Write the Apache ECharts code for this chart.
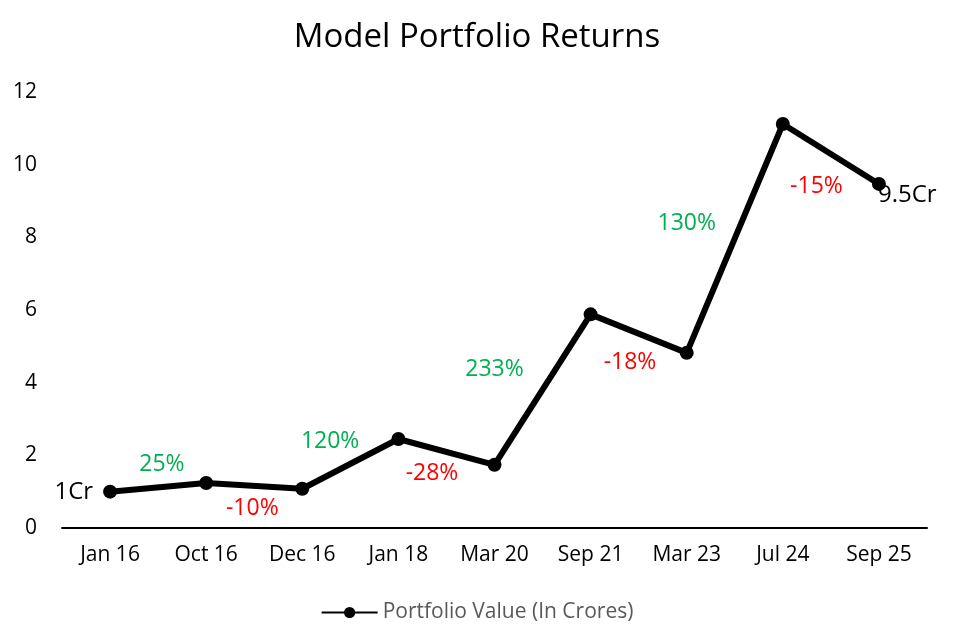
<!DOCTYPE html>
<html><head><meta charset="utf-8">
<script src="https://cdn.jsdelivr.net/npm/echarts@6/dist/echarts.min.js"></script>
<style>html,body{margin:0;padding:0;background:#fff}#c{width:954px;height:642px}</style>
</head><body><div id="c"></div>
<script>
const categories = ['Jan 16','Oct 16','Dec 16','Jan 18','Mar 20','Sep 21','Mar 23','Jul 24','Sep 25'];
const portfolioValues = [1.0, 1.24, 1.08, 2.45, 1.74, 5.88, 4.82, 11.12, 9.47];
const returnLabels = ['25%','-10%','120%','-28%','233%','-18%','130%','-15%'];
const returnLabelX = [0.54, 1.48, 2.29, 3.35, 4.0, 5.41, 6.0, 7.35];
const returnLabelY = [1.76, 0.55, 2.39, 1.51, 4.35, 4.57, 8.37, 9.41];
const yTicks = {min: 0, max: 12, interval: 2};
const FONT = 'Open Sans';

const chart = echarts.init(document.getElementById('c'));
const retData = returnLabels.map((t, i) => ({
  value: [returnLabelX[i], returnLabelY[i]],
  label: {formatter: t, color: t.startsWith('-') ? '#ff0000' : '#00b050'}
}));
const lineData = portfolioValues.map((v, i) => {
  if (i === 0) return {value: v, label: {show: true, position: 'left', distance: 10, formatter: '1Cr', color: '#000', fontSize: 24, fontFamily: FONT}};
  if (i === portfolioValues.length - 1) return {value: v, label: {show: true, position: [6, 6], formatter: '9.5Cr', color: '#000', fontSize: 24, fontFamily: FONT}};
  return v;
});
chart.setOption({
  animation: false,
  title: {text: 'Model Portfolio Returns', left: 'center', top: 16,
    textStyle: {fontFamily: FONT, fontSize: 33, fontWeight: 'normal', color: '#000'}},
  legend: {bottom: 14, left: 'center', itemWidth: 56, itemHeight: 14, data: ['Portfolio Value (In Crores)'],
    textStyle: {fontFamily: FONT, fontSize: 21, color: '#595959'}, itemGap: 4},
  grid: {left: 62, right: 27, top: 92, bottom: 114},
  xAxis: [{
    type: 'category', data: categories, boundaryGap: true,
    axisLine: {lineStyle: {color: '#000', width: 2}},
    axisTick: {show: false},
    axisLabel: {fontFamily: FONT, fontSize: 21, color: '#000', margin: 17}
  }, {
    type: 'value', min: -0.5, max: 8.5, show: false
  }],
  yAxis: {
    type: 'value', min: yTicks.min, max: yTicks.max, interval: yTicks.interval,
    splitLine: {show: false}, axisLine: {show: false}, axisTick: {show: false},
    axisLabel: {fontFamily: FONT, fontSize: 21, color: '#000', margin: 25}
  },
  series: [{
    name: 'Portfolio Value (In Crores)', type: 'line', data: lineData,
    symbol: 'circle', symbolSize: 14,
    lineStyle: {color: '#000', width: 6}, itemStyle: {color: '#000'}
  }, {
    type: 'scatter', xAxisIndex: 1, data: retData, symbolSize: 0,
    itemStyle: {opacity: 1},
    label: {show: true, position: 'inside', fontFamily: FONT, fontSize: 23},
    silent: true, legendHoverLink: false
  }]
});
</script></body></html>
